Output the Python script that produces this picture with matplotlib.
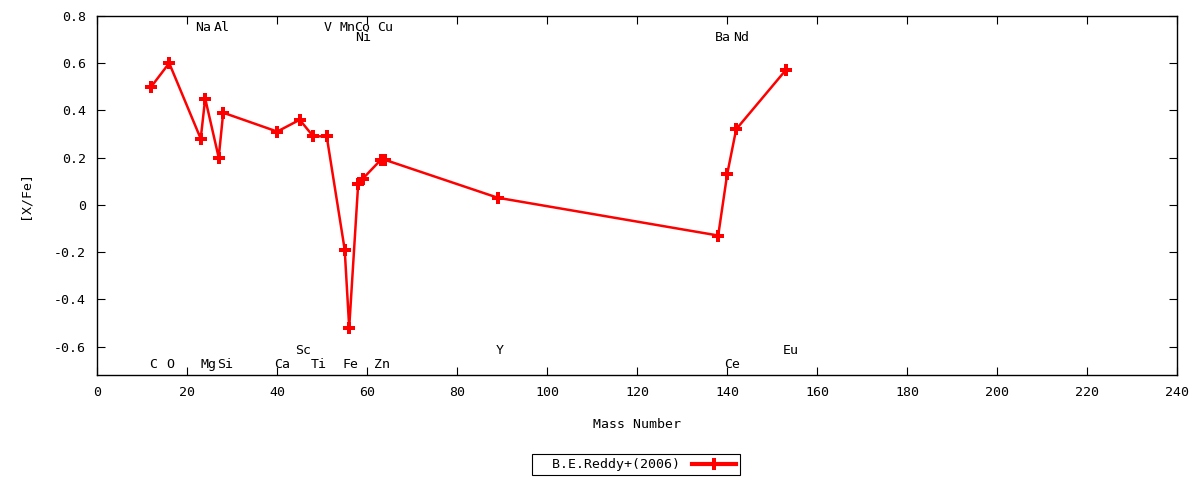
import matplotlib
matplotlib.use("Agg")
import matplotlib.pyplot as plt

plt.rcParams['font.family'] = ['DejaVu Sans Mono']
plt.rcParams['font.size'] = 9.5

# abundances, B.E.Reddy+(2006)
mass = [12, 16, 23, 24, 27, 28, 40, 45, 48, 51, 55, 56, 58, 59, 63, 64, 89, 138, 140, 142, 153]
xfe = [0.50, 0.60, 0.28, 0.45, 0.20, 0.39, 0.31, 0.36, 0.29, 0.29, -0.19, -0.52,
       0.09, 0.11, 0.19, 0.19, 0.03, -0.13, 0.13, 0.32, 0.57]

# element name labels
elem = ['C', 'O', 'Na', 'Mg', 'Al', 'Si', 'Ca', 'Sc', 'Ti', 'V', 'Mn', 'Fe',
        'Ni', 'Co', 'Cu', 'Zn', 'Y', 'Ba', 'Ce', 'Nd', 'Eu']
elem_x = [12.4, 16.3, 23.5, 24.8, 27.7, 28.4, 41.0, 45.7, 49.2, 51.1, 55.7, 56.2,
          59.1, 58.9, 63.9, 63.3, 89.4, 139.0, 141.0, 143.0, 154.2]
elem_y = [-0.675, -0.675, 0.75, -0.675, 0.75, -0.675, -0.675, -0.615, -0.675, 0.75, 0.75, -0.675,
          0.71, 0.75, 0.75, -0.675, -0.615, 0.71, -0.675, 0.71, -0.615]

fig = plt.figure(figsize=(12, 4.8), dpi=100)
ax = fig.add_axes([0.081, 0.219, 0.9, 0.748])

ax.plot(mass, xfe, color='red', lw=1.8, marker='P', ms=8.5,
        markeredgewidth=0, label='  B.E.Reddy+(2006)')

for name, x, y in zip(elem, elem_x, elem_y):
    ax.text(x, y, name, ha='center', va='center', fontsize=9.5)

ax.set_xlim(0, 240)
ax.set_ylim(-0.72, 0.8)
ax.set_xticks(range(0, 241, 20))
ax.set_yticks([-0.6, -0.4, -0.2, 0, 0.2, 0.4, 0.6, 0.8])
ax.set_yticklabels(['-0.6', '-0.4', '-0.2', '0', '0.2', '0.4', '0.6', '0.8'])
ax.tick_params(direction='in', top=True, right=True, length=6, width=0.8, pad=8)
for s in ax.spines.values():
    s.set_linewidth(1.0)

ax.set_xlabel('Mass Number', labelpad=14)
ax.set_ylabel('[X/Fe]', labelpad=16)

leg = fig.legend(loc='center', bbox_to_anchor=(0.53, 0.032), markerfirst=False,
                 handlelength=3.4, fancybox=False, framealpha=1,
                 borderpad=0.3, handletextpad=0.9, borderaxespad=0)
leg.get_frame().set_edgecolor('black')
leg.get_frame().set_linewidth(0.8)
for h in leg.get_lines():
    h.set_linewidth(3)

fig.savefig('out.png')
